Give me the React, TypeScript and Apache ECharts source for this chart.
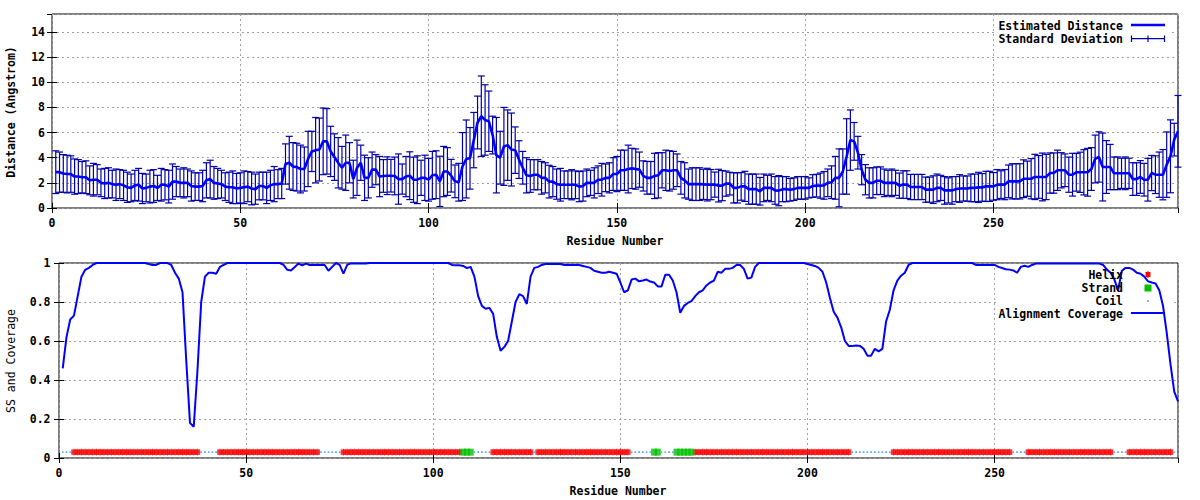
import React, { useEffect, useRef } from "react";
import * as echarts from "echarts";

// Residues 1..299
const distance = [
  2.85, 2.85, 2.75, 2.7, 2.7, 2.5, 2.5, 2.45, 2.45, 2.2,
  2.25, 2.25, 2.0, 1.95, 2.0, 1.9, 1.85, 1.9, 1.8, 1.65,
  1.6, 1.8, 1.85, 1.55, 1.6, 1.7, 1.75, 1.6, 1.85, 1.85,
  1.7, 2.1, 2.1, 2.0, 2.0, 2.0, 1.75, 1.7, 1.7, 1.75,
  2.2, 2.3, 2.0, 1.95, 1.9, 1.7, 1.65, 1.65, 1.55, 1.6,
  1.65, 1.7, 1.55, 1.5, 1.75, 1.75, 1.6, 1.8, 1.9, 1.9,
  1.95, 3.5, 3.6, 3.3, 3.25, 3.1, 3.1, 3.9, 4.5, 4.6,
  4.65, 5.3, 5.3, 4.5, 4.05, 3.6, 3.2, 3.6, 3.6, 2.3,
  3.2, 3.6, 2.4, 2.4, 3.05, 3.05, 2.5, 2.55, 2.57, 2.57,
  2.55, 2.3, 2.3, 2.5, 2.57, 2.25, 2.25, 2.4, 2.4, 2.25,
  2.6, 2.65, 2.12, 2.9, 2.9, 2.57, 2.12, 2.05, 3.3, 3.9,
  3.95, 5.4, 6.8, 7.3, 7.0, 6.9, 5.8, 4.2, 4.0, 4.9,
  5.0, 4.65, 4.6, 3.85, 3.2, 2.6, 2.55, 2.65, 2.65, 2.4,
  2.4, 2.1, 2.1, 1.9, 1.85, 1.85, 1.85, 1.85, 1.85, 1.7,
  1.75, 2.0, 2.0, 2.0, 2.25, 2.25, 2.4, 2.4, 2.7, 2.7,
  3.0, 3.0, 3.1, 3.15, 3.1, 3.05, 2.55, 2.4, 2.4, 2.55,
  2.6, 3.0, 3.0, 2.95, 3.0, 3.0, 2.4, 2.2, 1.9, 1.9,
  1.9, 1.9, 1.88, 1.86, 1.86, 1.86, 1.78, 1.78, 1.94, 1.94,
  1.6, 1.6, 1.72, 1.72, 1.5, 1.5, 1.5, 1.33, 1.6, 1.6,
  1.6, 1.4, 1.38, 1.5, 1.5, 1.45, 1.5, 1.6, 1.6, 1.6,
  1.6, 1.75, 1.78, 1.78, 1.8, 2.0, 2.05, 2.4, 2.4, 2.9,
  4.1, 5.4, 5.3, 4.4, 3.05, 2.25, 2.0, 2.0, 2.17, 2.17,
  2.0, 2.0, 2.0, 2.0, 1.78, 1.86, 1.86, 1.67, 1.67, 1.67,
  1.67, 1.46, 1.46, 1.46, 1.6, 1.6, 1.4, 1.4, 1.4, 1.5,
  1.55, 1.55, 1.55, 1.6, 1.6, 1.64, 1.64, 1.72, 1.72, 1.72,
  1.86, 1.86, 1.86, 2.12, 2.12, 2.12, 2.12, 2.33, 2.33, 2.33,
  2.47, 2.47, 2.47, 2.47, 2.78, 2.78, 3.0, 3.0, 3.0, 2.65,
  2.65, 2.84, 2.84, 2.84, 2.84, 3.1, 3.9, 4.06, 3.26, 3.26,
  3.26, 2.76, 2.76, 2.76, 2.76, 2.76, 2.3, 2.3, 2.47, 2.25,
  2.25, 2.78, 2.65, 2.65, 2.65, 3.45, 4.11, 5.44, 6.1,
];

const stdDev = [
  1.7, 1.6, 1.5, 1.5, 1.45, 1.4, 1.35, 1.25, 1.3, 1.15,
  1.3, 1.2, 1.1, 1.2, 1.2, 1.1, 1.25, 1.15, 1.2, 1.2,
  1.1, 1.2, 1.3, 1.2, 1.1, 1.3, 1.3, 1.0, 1.3, 1.2,
  1.3, 1.4, 1.2, 1.1, 1.2, 1.1, 1.2, 1.1, 1.1, 1.25,
  1.4, 1.5, 1.3, 1.2, 1.1, 1.1, 1.2, 1.3, 1.2, 1.2,
  1.3, 1.2, 1.3, 1.2, 1.1, 1.1, 1.25, 1.2, 1.4, 1.15,
  1.2, 1.6, 2.1, 1.9, 1.9, 1.9, 1.75, 2.2, 1.6, 2.6,
  2.5, 2.65, 2.6, 2.0, 1.85, 2.0, 1.7, 2.2, 1.6, 1.5,
  2.2, 1.4, 1.8, 1.6, 1.4, 1.2, 1.6, 1.3, 1.5, 1.3,
  1.5, 2.0, 1.2, 1.6, 1.9, 1.8, 1.9, 1.4, 1.8, 1.7,
  1.9, 1.9, 2.0, 2.0, 1.9, 1.3, 1.3, 1.5, 2.7, 3.1,
  2.45, 2.2, 2.1, 3.2, 2.8, 2.4, 1.5, 3.0, 2.1, 3.1,
  2.8, 2.9, 1.85, 1.5, 1.3, 1.4, 1.3, 1.2, 1.2, 1.3,
  1.2, 1.3, 1.2, 1.2, 1.3, 1.1, 1.1, 1.2, 1.1, 1.2,
  1.2, 1.1, 1.0, 1.2, 1.1, 1.3, 1.1, 1.2, 1.3, 1.4,
  1.6, 1.6, 1.9, 1.6, 1.6, 1.4, 1.2, 1.3, 1.3, 1.8,
  1.8, 1.4, 1.6, 1.6, 1.5, 1.3, 1.3, 1.4, 1.2, 1.3,
  1.3, 1.3, 1.2, 1.3, 1.2, 1.0, 1.3, 1.2, 1.0, 0.9,
  1.2, 1.2, 1.1, 1.2, 1.2, 1.2, 1.2, 1.1, 1.1, 1.0,
  1.1, 1.1, 1.2, 1.0, 1.0, 0.9, 0.9, 0.9, 0.9, 0.9,
  0.8, 0.9, 0.9, 1.0, 1.1, 1.1, 1.3, 1.7, 2.3, 1.8,
  3.0, 2.4, 1.5, 1.3, 1.2, 1.2, 1.2, 1.2, 1.1, 1.1,
  1.1, 1.0, 1.1, 1.0, 1.0, 1.1, 1.1, 1.0, 1.0, 1.0,
  1.0, 1.0, 1.0, 1.1, 1.1, 1.0, 1.1, 1.0, 1.1, 1.0,
  1.1, 1.0, 1.0, 1.1, 1.1, 1.2, 1.1, 1.2, 1.2, 1.1,
  1.2, 1.1, 1.2, 1.3, 1.4, 1.4, 1.4, 1.5, 1.4, 1.6,
  1.8, 1.7, 1.9, 1.8, 1.6, 1.6, 1.6, 1.4, 1.3, 1.4,
  1.7, 1.5, 1.6, 1.8, 1.9, 1.7, 1.9, 2.0, 2.7, 2.1,
  1.8, 1.3, 1.3, 1.2, 1.3, 1.2, 1.3, 1.3, 1.3, 1.3,
  1.7, 1.4, 1.5, 1.8, 2.0, 2.6, 2.9, 1.3, 2.85,
];

const coverage = [
  0.46, 0.62, 0.71, 0.73, 0.83, 0.93, 0.965, 0.975, 0.99, 1.0,
  1, 1, 1, 1, 1, 1, 1, 1, 1, 1,
  1, 1, 1, 0.995, 0.99, 0.99, 1, 1, 1, 0.99,
  0.95, 0.92, 0.85, 0.5, 0.18, 0.16, 0.45, 0.8, 0.93, 0.95,
  0.95, 0.945, 0.98, 0.99, 1, 1, 1, 1, 1, 1,
  1, 1, 1, 1, 1, 1, 1, 1, 1, 0.99,
  0.965, 0.962, 0.98, 0.997, 0.988, 0.997, 0.99, 0.99, 0.99, 0.99,
  0.99, 0.96, 0.98, 1.0, 0.99, 0.945, 0.99, 0.998, 0.998, 0.998,
  0.998, 0.998, 1, 1, 1, 1, 1, 1, 1, 1,
  1, 1, 1, 1, 1, 1, 1, 1, 1, 1,
  1, 1, 1, 1, 0.99, 0.988, 0.988, 0.985, 0.974, 0.98,
  0.93, 0.83, 0.78, 0.765, 0.77, 0.74, 0.62, 0.55, 0.57, 0.6,
  0.7, 0.8, 0.84, 0.83, 0.79, 0.93, 0.975, 0.98, 0.99, 0.995,
  0.995, 0.995, 0.995, 0.995, 0.99, 0.99, 0.99, 0.99, 0.99, 0.985,
  0.98, 0.975, 0.96, 0.955, 0.95, 0.95, 0.955, 0.95, 0.945, 0.9,
  0.85, 0.86, 0.915, 0.92, 0.906, 0.91, 0.915, 0.905, 0.9, 0.88,
  0.88, 0.94, 0.94, 0.91, 0.85, 0.745, 0.78, 0.795, 0.805, 0.83,
  0.85, 0.86, 0.885, 0.9, 0.91, 0.955, 0.95, 0.97, 0.97, 0.975,
  0.99, 0.99, 0.97, 0.92, 0.925, 0.98, 1, 1, 1, 1,
  1, 1, 1, 1, 1, 1, 1, 1, 1, 0.995,
  0.99, 0.985, 0.975, 0.955, 0.9, 0.82, 0.75, 0.72, 0.67, 0.6,
  0.575, 0.575, 0.577, 0.575, 0.56, 0.525, 0.525, 0.56, 0.547, 0.56,
  0.7, 0.76, 0.86, 0.91, 0.935, 0.95, 0.99, 1, 1, 1,
  1, 1, 1, 1, 1, 1, 1, 1, 1, 1,
  1, 1, 1, 1, 0.99, 0.99, 0.99, 0.99, 0.99, 0.99,
  0.98, 0.974, 0.968, 0.966, 0.962, 0.95, 0.98, 0.986, 0.98, 0.99,
  0.997, 0.997, 0.997, 0.997, 0.997, 0.997, 0.997, 0.997, 0.997, 0.997,
  0.997, 0.997, 0.997, 0.997, 0.997, 0.997, 0.997, 0.997, 0.99, 0.966,
  0.95, 0.915, 0.86, 0.96, 0.975, 0.975, 0.966, 0.95, 0.945, 0.93,
  0.906, 0.9, 0.895, 0.86, 0.78, 0.64, 0.48, 0.34, 0.29,
];

// Secondary structure: [type, firstResidue, lastResidue]
const ssSegments: [string, number, number][] = [
  ["C", 1, 3], ["H", 4, 37], ["C", 38, 42], ["H", 43, 69], ["C", 70, 75],
  ["H", 76, 107], ["E", 108, 110], ["C", 111, 115], ["H", 116, 126], ["C", 127, 127],
  ["H", 128, 152], ["C", 153, 158], ["E", 159, 160], ["C", 161, 164], ["E", 165, 169],
  ["H", 170, 211], ["C", 212, 222], ["H", 223, 254], ["C", 255, 258], ["H", 259, 281],
  ["C", 282, 285], ["H", 286, 297], ["C", 298, 299],
];
const SS_LEVEL = 0.03;

const X_MAX = 299;
const X_INTERVAL = 50;
const Y1_MAX = 15.43;
const Y1_INTERVAL = 2;
const Y2_MAX = 1;
const Y2_INTERVAL = 0.2;

const FONT = "'DejaVu Sans Mono', 'Liberation Mono', monospace";
const BLUE = "#0000ff";
const NAVY = "#0000a8";
const RED = "#ff0000";
const GREEN = "#00c000";
const COIL = "#1a8cff";

function ssPoints(type: string) {
  const pts: number[][] = [];
  ssSegments.forEach(([t, a, b]) => {
    if (t !== type) return;
    for (let r = a; r <= b; r++) pts.push([r, SS_LEVEL]);
  });
  return pts;
}

const gridLine = { show: true, lineStyle: { color: "#a0a0a0", type: [2, 3] as any, width: 1 } };
const tickStyle = { show: true, inside: true, length: 5, lineStyle: { color: "#000", width: 1 } };
const labelFont = { fontFamily: FONT, fontWeight: "bold" as const, fontSize: 11.5, color: "#000" };

function xAxesFor(gridIndex: number) {
  return [
    {
      type: "value", gridIndex, min: 0, max: X_MAX, interval: X_INTERVAL, position: "bottom",
      axisLine: { show: false }, axisTick: tickStyle,
      axisLabel: { ...labelFont, margin: 9, showMaxLabel: false },
      splitLine: gridLine,
    },
    {
      type: "value", gridIndex, min: 0, max: X_MAX, interval: X_INTERVAL, position: "top",
      axisLine: { show: false }, axisTick: tickStyle, axisLabel: { show: false }, splitLine: { show: false },
    },
  ];
}

function yAxesFor(gridIndex: number, max: number, interval: number, margin: number, showMax: boolean) {
  return [
    {
      type: "value", gridIndex, min: 0, max, interval, position: "left",
      axisLine: { show: false }, axisTick: tickStyle,
      axisLabel: { ...labelFont, margin, showMaxLabel: showMax },
      splitLine: gridLine,
    },
    {
      type: "value", gridIndex, min: 0, max, interval, position: "right",
      axisLine: { show: false }, axisTick: tickStyle, axisLabel: { show: false }, splitLine: { show: false },
    },
  ];
}

function legendText(text: string, y: number) {
  return {
    type: "text", x: 1123, y, z: 20,
    style: { text, align: "right", verticalAlign: "middle", font: `bold 11.5px ${FONT}`, fill: "#000" },
  };
}

export default function App() {
  const ref = useRef<HTMLDivElement>(null);

  useEffect(() => {
    if (!ref.current) return;
    const chart = echarts.init(ref.current, null, { renderer: "svg" });

    const distData = distance.map((d, i) => [i + 1, d]);
    const errData = distance.map((d, i) => [i + 1, d - stdDev[i], d + stdDev[i]]);
    const covData = coverage.map((c, i) => [i + 1, c]);

    const option: any = {
      animation: false,
      backgroundColor: "#fff",
      grid: [
        { left: 52, top: 14, width: 1126, height: 194, show: true, borderColor: "#000", borderWidth: 1, backgroundColor: "transparent" },
        { left: 59, top: 263, width: 1119, height: 195, show: true, borderColor: "#000", borderWidth: 1, backgroundColor: "transparent" },
      ],
      xAxis: [...xAxesFor(0), ...xAxesFor(1)],
      yAxis: [
        ...yAxesFor(0, Y1_MAX, Y1_INTERVAL, 7, false),
        ...yAxesFor(1, Y2_MAX, Y2_INTERVAL, 8.5, true),
      ],
      series: [
        {
          type: "custom", name: "Standard Deviation", xAxisIndex: 0, yAxisIndex: 0,
          encode: { x: 0, y: [1, 2] }, data: errData, z: 3,
          renderItem: (params: any, api: any) => {
            const x = api.value(0);
            const lo = api.coord([x, api.value(1)]);
            const hi = api.coord([x, api.value(2)]);
            const hw = 3.5;
            const style = { stroke: NAVY, lineWidth: 1.2, fill: null };
            return {
              type: "group",
              children: [
                { type: "line", shape: { x1: lo[0], y1: lo[1], x2: hi[0], y2: hi[1] }, style },
                { type: "line", shape: { x1: lo[0] - hw, y1: lo[1], x2: lo[0] + hw, y2: lo[1] }, style },
                { type: "line", shape: { x1: hi[0] - hw, y1: hi[1], x2: hi[0] + hw, y2: hi[1] }, style },
              ],
            };
          },
        },
        {
          type: "line", name: "Estimated Distance", xAxisIndex: 0, yAxisIndex: 0, data: distData,
          symbol: "none", lineStyle: { color: BLUE, width: 2.6 }, z: 4,
        },
        {
          type: "scatter", name: "Coil", xAxisIndex: 2, yAxisIndex: 2, data: ssPoints("C"),
          symbol: "rect", symbolSize: [1.6, 1.6], itemStyle: { color: COIL }, z: 2,
        },
        {
          type: "scatter", name: "Helix", xAxisIndex: 2, yAxisIndex: 2, data: ssPoints("H"),
          symbol: "rect", symbolSize: [5.5, 5.5], itemStyle: { color: RED }, z: 2,
        },
        {
          type: "scatter", name: "HelixTick", xAxisIndex: 2, yAxisIndex: 2, data: ssPoints("H"),
          symbol: "rect", symbolSize: [1, 6.6], itemStyle: { color: RED }, z: 2,
        },
        {
          type: "scatter", name: "Strand", xAxisIndex: 2, yAxisIndex: 2, data: ssPoints("E"),
          symbol: "rect", symbolSize: [6, 7], itemStyle: { color: GREEN }, z: 2,
        },
        {
          type: "line", name: "Alignment Coverage", xAxisIndex: 2, yAxisIndex: 2, data: covData,
          symbol: "none", lineStyle: { color: BLUE, width: 2 }, z: 4,
        },
      ],
      graphic: [
        // key backgrounds (hide grid lines)
        { type: "rect", z: 1, shape: { x: 995, y: 16, width: 177, height: 30 }, style: { fill: "#fff" } },
        { type: "rect", z: 1, shape: { x: 997, y: 265, width: 175, height: 56 }, style: { fill: "#fff" } },
        // top key
        legendText("Estimated Distance", 26),
        { type: "line", z: 20, shape: { x1: 1131, y1: 25, x2: 1165, y2: 25 }, style: { stroke: BLUE, lineWidth: 2.5 } },
        legendText("Standard Deviation", 39),
        { type: "line", z: 20, shape: { x1: 1131, y1: 38.7, x2: 1165, y2: 38.7 }, style: { stroke: NAVY, lineWidth: 1.2 } },
        { type: "line", z: 20, shape: { x1: 1131.5, y1: 35.5, x2: 1131.5, y2: 42 }, style: { stroke: NAVY, lineWidth: 1.2 } },
        { type: "line", z: 20, shape: { x1: 1164.5, y1: 35.5, x2: 1164.5, y2: 42 }, style: { stroke: NAVY, lineWidth: 1.2 } },
        { type: "line", z: 20, shape: { x1: 1148, y1: 35.5, x2: 1148, y2: 42 }, style: { stroke: NAVY, lineWidth: 1.2 } },
        // bottom key
        legendText("Helix", 275),
        { type: "rect", z: 20, shape: { x: 1145.5, y: 272, width: 5, height: 5 }, style: { fill: RED } },
        { type: "rect", z: 20, shape: { x: 1147.5, y: 271, width: 1, height: 7 }, style: { fill: RED } },
        legendText("Strand", 288),
        { type: "rect", z: 20, shape: { x: 1144.5, y: 284.5, width: 7, height: 7 }, style: { fill: GREEN } },
        legendText("Coil", 301),
        { type: "rect", z: 20, shape: { x: 1147.2, y: 300.2, width: 1.6, height: 1.6 }, style: { fill: COIL } },
        legendText("Alignment Coverage", 313.5),
        { type: "line", z: 20, shape: { x1: 1131, y1: 313, x2: 1165, y2: 313 }, style: { stroke: BLUE, lineWidth: 2 } },
        // axis titles
        {
          type: "text", x: 615, y: 241, z: 20,
          style: { text: "Residue Number", align: "center", verticalAlign: "middle", font: `bold 11.5px ${FONT}`, fill: "#000" },
        },
        {
          type: "text", x: 618, y: 491, z: 20,
          style: { text: "Residue Number", align: "center", verticalAlign: "middle", font: `bold 11.5px ${FONT}`, fill: "#000" },
        },
        {
          type: "text", x: 11, y: 112, z: 20, rotation: Math.PI / 2,
          style: { text: "Distance (Angstrom)", align: "center", verticalAlign: "middle", font: `bold 11.5px ${FONT}`, fill: "#000" },
        },
        {
          type: "text", x: 11, y: 361, z: 20, rotation: Math.PI / 2,
          style: { text: "SS and Coverage", align: "center", verticalAlign: "middle", font: `11.5px ${FONT}`, fill: "#000" },
        },
      ],
    };

    chart.setOption(option);
    return () => chart.dispose();
  }, []);

  return (
    <div
      ref={ref}
      style={{ position: "absolute", left: 0, top: 0, width: 1200, height: 500, background: "#fff" }}
    />
  );
}
